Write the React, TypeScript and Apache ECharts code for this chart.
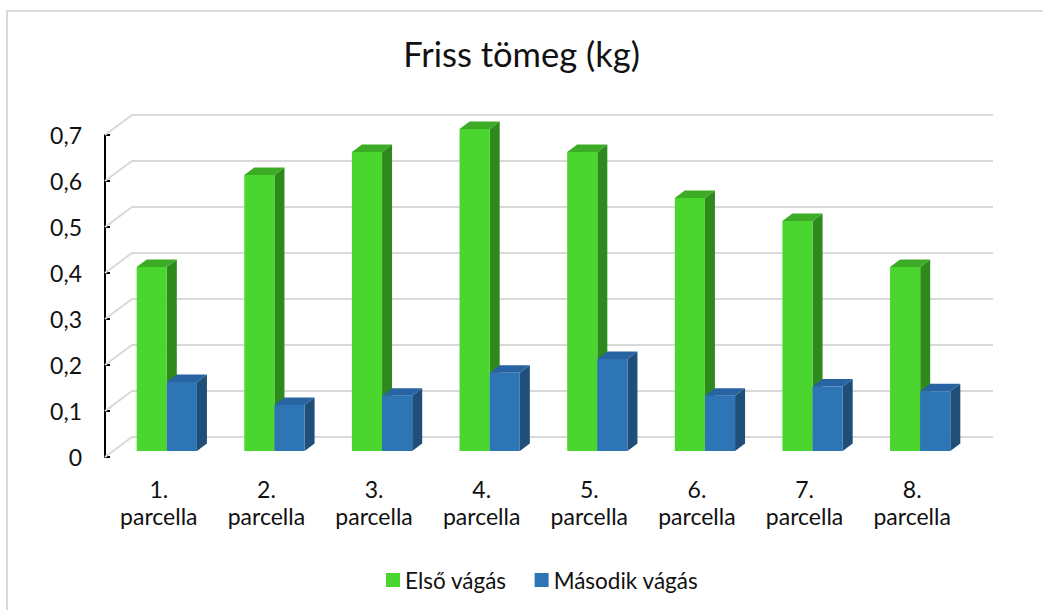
import React, { useEffect, useRef } from "react";
import * as echarts from "echarts";

const categories = [
  "1.\nparcella",
  "2.\nparcella",
  "3.\nparcella",
  "4.\nparcella",
  "5.\nparcella",
  "6.\nparcella",
  "7.\nparcella",
  "8.\nparcella",
];
const elsoVagas = [0.4, 0.6, 0.65, 0.7, 0.65, 0.55, 0.5, 0.4];
const masodikVagas = [0.15, 0.1, 0.12, 0.17, 0.2, 0.12, 0.14, 0.13];
const yTicks = [0, 0.1, 0.2, 0.3, 0.4, 0.5, 0.6, 0.7];

const FONT = "Lato, 'Open Sans', sans-serif";

const DEPTH_X = 27;
const DEPTH_Y = -20;

function makeBarRender(side: "left" | "right", front: string, sideC: string, topC: string) {
  return (params: any, api: any) => {
    const i = api.value(0);
    const v = api.value(1);
    const base = api.coord([i, 0]);
    const top = api.coord([i, v]);
    const band = api.size([1, 0])[0];
    const w = band * 0.28;
    const sx = 8;
    const sy = -6;
    const dx = 10;
    const dy = -7.5;
    const cx = base[0] + sx;
    const xl = side === "left" ? cx - w : cx;
    const xr = xl + w;
    const yb = base[1] + sy;
    const yt = top[1] + sy;
    return {
      type: "group",
      children: [
        {
          type: "polygon",
          shape: { points: [[xr, yb], [xr + dx, yb + dy], [xr + dx, yt + dy], [xr, yt]] },
          style: { fill: sideC },
        },
        {
          type: "polygon",
          shape: { points: [[xl, yt], [xl + dx, yt + dy], [xr + dx, yt + dy], [xr, yt]] },
          style: { fill: topC },
        },
        {
          type: "rect",
          shape: { x: xl, y: yt, width: w, height: yb - yt },
          style: { fill: front },
        },
      ],
    };
  };
}

export default function App() {
  const ref = useRef<HTMLDivElement>(null);
  useEffect(() => {
    document.body.style.margin = "0";
    const chart = echarts.init(ref.current!, undefined, { renderer: "svg" });
    chart.setOption({
      animation: false,
      backgroundColor: "#ffffff",
      title: {
        text: "Friss tömeg (kg)",
        left: "center",
        top: 26,
        textStyle: { fontFamily: FONT, fontSize: 34.5, fontWeight: "normal", color: "#111", lineHeight: 44 },
      },
      graphic: [
        {
          type: "polyline",
          shape: { points: [[7, 700], [7, 11], [1100, 11]] },
          style: { stroke: "#d9d9d9", lineWidth: 2, fill: "none" },
          silent: true,
        },
      ],
      legend: {
        top: 561,
        left: 381,
        itemWidth: 14,
        itemHeight: 14,
        itemGap: 28,
        icon: "rect",
        textStyle: { fontFamily: FONT, fontSize: 22.5, color: "#111", lineHeight: 28 },
        data: ["Első vágás", "Második vágás"],
      },
      grid: { left: 105, top: 135, width: 861, height: 322 },
      xAxis: {
        type: "category",
        data: categories,
        boundaryGap: true,
        axisLine: { show: false },
        axisTick: { show: false },
        axisLabel: {
          fontFamily: FONT,
          fontSize: 23,
          color: "#111",
          lineHeight: 27,
          margin: 18,
          interval: 0,
        },
      },
      yAxis: {
        type: "value",
        min: 0,
        max: 0.7,
        interval: 0.1,
        splitLine: { show: false },
        axisLine: { show: true, lineStyle: { color: "#000", width: 2 } },
        axisTick: { show: true, inside: true, length: 5, lineStyle: { color: "#000", width: 2 } },
        axisLabel: {
          fontFamily: FONT,
          fontSize: 23,
          color: "#111",
          margin: 23,
          formatter: (v: number) => (v === 0 ? "0" : v.toFixed(1).replace(".", ",")),
        },
      },
      series: [
        {
          name: "gridlines",
          type: "custom",
          z: 1,
          silent: true,
          data: yTicks.map((t) => [0, t]),
          encode: { x: 0, y: 1 },
          renderItem: (params: any, api: any) => {
            const p = api.coord([0, api.value(1)]);
            const cs = params.coordSys;
            const x0 = cs.x;
            const y = p[1];
            return {
              type: "polyline",
              shape: {
                points: [
                  [x0, y],
                  [x0 + DEPTH_X, y + DEPTH_Y],
                  [x0 + cs.width + DEPTH_X, y + DEPTH_Y],
                ],
              },
              style: { stroke: "#d9d9d9", lineWidth: 2, fill: "none" },
            };
          },
        },
        {
          name: "Első vágás",
          type: "custom",
          z: 2,
          itemStyle: { color: "#4ad62f" },
          data: elsoVagas.map((v, i) => [i, v]),
          encode: { x: 0, y: 1 },
          renderItem: makeBarRender("left", "#4ad62f", "#2e8a1d", "#3cab26"),
        },
        {
          name: "Második vágás",
          type: "custom",
          z: 3,
          itemStyle: { color: "#2e75b6" },
          data: masodikVagas.map((v, i) => [i, v]),
          encode: { x: 0, y: 1 },
          renderItem: makeBarRender("right", "#2e75b6", "#1f4e79", "#2864a2"),
        },
      ],
    });
    return () => chart.dispose();
  }, []);
  return <div ref={ref} style={{ width: 1043, height: 610 }} />;
}
